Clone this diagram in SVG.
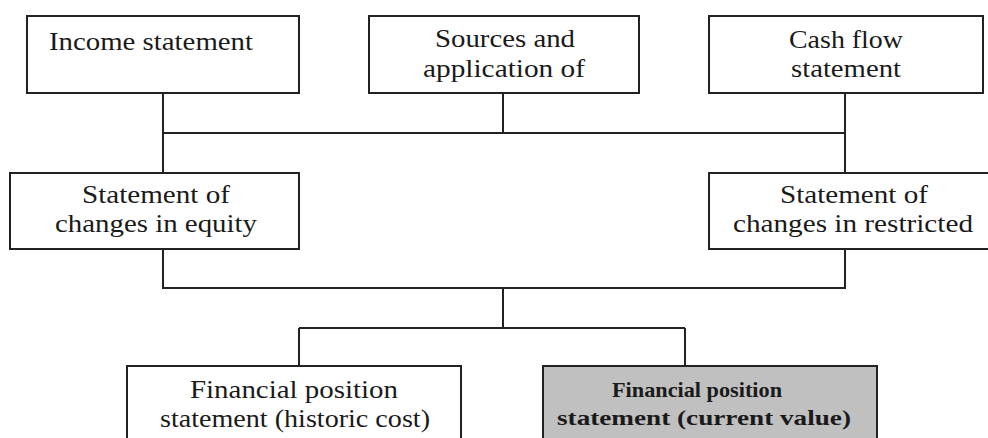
<svg xmlns="http://www.w3.org/2000/svg" width="988" height="438" viewBox="0 0 988 438">
<style>
.box{fill:#fff;stroke:#222;stroke-width:2}
.grey{fill:#c0c0c0;stroke:#222;stroke-width:2}
.t{font-family:"Liberation Serif","Times New Roman","DejaVu Serif",serif;font-size:25px;fill:#1a1a1a;text-anchor:middle}
.b{font-weight:bold;font-size:22px}
.c{fill:none;stroke:#222;stroke-width:2}
</style>
<rect width="988" height="438" fill="#fff"/>
<g id="connectors">
<path class="c" d="M163 93V172M503 93V133M845 93V172M163 133H845"/>
<path class="c" d="M163 249V288H845V249M503 288V328M299 328H685M299 328V366M685 328V366"/>
</g>
<g id="income">
<rect class="box" x="27" y="16" width="272" height="77"/>
<text class="t" x="151" y="50" textLength="204" lengthAdjust="spacingAndGlyphs">Income statement</text>
</g>
<g id="sources">
<rect class="box" x="369" y="16" width="270" height="77"/>
<text class="t" x="505" y="47" textLength="140" lengthAdjust="spacingAndGlyphs">Sources and</text>
<text class="t" x="504" y="77" textLength="162" lengthAdjust="spacingAndGlyphs">application of</text>
</g>
<g id="cashflow">
<rect class="box" x="709" y="16" width="274" height="77"/>
<text class="t" x="846" y="48" textLength="114" lengthAdjust="spacingAndGlyphs">Cash flow</text>
<text class="t" x="846" y="77" textLength="110" lengthAdjust="spacingAndGlyphs">statement</text>
</g>
<g id="equity">
<rect class="box" x="10" y="173" width="289" height="76"/>
<text class="t" x="156" y="203" textLength="148" lengthAdjust="spacingAndGlyphs">Statement of</text>
<text class="t" x="156" y="232" textLength="202" lengthAdjust="spacingAndGlyphs">changes in equity</text>
</g>
<g id="restricted">
<rect class="box" x="709" y="173" width="300" height="76"/>
<text class="t" x="854" y="203" textLength="148" lengthAdjust="spacingAndGlyphs">Statement of</text>
<text class="t" x="853" y="232" textLength="240" lengthAdjust="spacingAndGlyphs">changes in restricted</text>
</g>
<g id="historic">
<rect class="box" x="127" y="366" width="334" height="90"/>
<text class="t" x="294" y="398" textLength="208" lengthAdjust="spacingAndGlyphs">Financial position</text>
<text class="t" x="295" y="427" textLength="270" lengthAdjust="spacingAndGlyphs">statement (historic cost)</text>
</g>
<g id="current">
<rect class="grey" x="543" y="366" width="334" height="90"/>
<text class="t b" x="697" y="397" textLength="170" lengthAdjust="spacingAndGlyphs">Financial position</text>
<text class="t b" x="704" y="425" textLength="294" lengthAdjust="spacingAndGlyphs">statement (current value)</text>
</g>
</svg>
